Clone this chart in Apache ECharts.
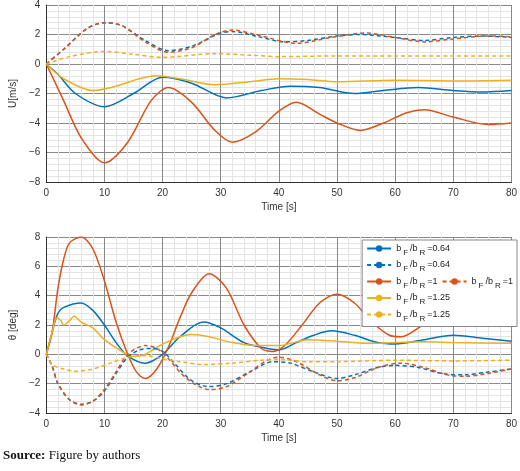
<!DOCTYPE html>
<html><head><meta charset="utf-8">
<script src="https://cdn.jsdelivr.net/npm/echarts@6/dist/echarts.min.js"></script>
<style>body{margin:0;background:#fff}#c{width:520px;height:471px}</style>
</head><body><div id="c"></div>
<script>
// U [m/s]
const uBlueSolid = [[0,0],[2,-0.7],[5,-2.0],[10,-2.9],[15,-2.0],[20,-0.9],[25,-1.3],[31,-2.3],[37,-1.8],[42,-1.5],[47,-1.6],[53,-2.0],[58,-1.8],[64,-1.6],[70,-1.8],[75,-1.9],[80,-1.8]];
const uRedSolid = [[0,0],[3,-2.5],[6,-5],[10,-6.7],[14,-5.3],[18,-2.5],[21,-1.6],[25,-2.6],[29,-4.5],[32,-5.3],[36,-4.6],[40,-3.2],[43,-2.6],[47,-3.4],[50,-4.0],[54,-4.5],[58,-4.0],[62,-3.3],[65,-3.1],[70,-3.6],[76,-4.1],[80,-4.0]];
const uYellowSolid = [[0,0],[3,-1.0],[8,-1.8],[12,-1.5],[16,-1.0],[19,-0.8],[23,-1.0],[29,-1.4],[35,-1.2],[40,-1.0],[45,-1.05],[50,-1.2],[60,-1.1],[70,-1.15],[80,-1.1]];
const uBlueDash = [[0,0],[3,1.0],[7,2.4],[10,2.8],[13,2.6],[17,1.6],[21,0.9],[25,1.2],[30,2.1],[32,2.2],[36,1.9],[41,1.5],[45,1.6],[50,1.9],[54,2.0],[60,1.8],[65,1.6],[70,1.8],[75,1.9],[80,1.8]];
const uRedDash = [[0,0],[3,1.0],[7,2.4],[10,2.8],[13,2.6],[17,1.5],[21,0.8],[25,1.1],[29,2.0],[32,2.3],[36,2.0],[43,1.4],[49,1.8],[55,2.1],[60,1.8],[65,1.5],[70,1.7],[76,1.9],[80,1.85]];
const uYellowDash = [[0,0],[4,0.5],[10,0.85],[15,0.65],[20,0.45],[29,0.7],[35,0.6],[40,0.5],[50,0.55],[60,0.55],[70,0.55],[80,0.55]];
// theta [deg]
const tRedSolid = [[0,0],[1,1.5],[2,4.5],[3,6.5],[4,7.6],[6,8.0],[8,7.2],[10,5],[12,2.2],[14,0],[15.5,-1.2],[17,-1.65],[19,-1.0],[21,0.5],[23,2.5],[25,4.2],[28,5.5],[31,4.5],[34,2.0],[37,0.4],[39,0.2],[41,0.6],[44,2.0],[47,3.5],[50,4.1],[53,3.5],[56,2.2],[59,1.3],[61,1.2],[64,1.8],[68,2.9],[72,3.3],[76,2.9],[80,2.1]];
const tBlueSolid = [[0,0],[1,1.5],[2,2.8],[3,3.2],[6,3.5],[8,3.0],[10,2.0],[12,0.8],[14,-0.1],[17,-0.6],[20,0],[23,1.2],[27,2.2],[30,1.8],[34,0.8],[38,0.4],[40,0.3],[43,0.8],[46,1.3],[49,1.6],[53,1.3],[57,0.8],[60,0.7],[65,1.0],[70,1.3],[75,1.1],[80,0.9]];
const tYellowSolid = [[0,0],[1,1.5],[1.8,2.5],[2.5,2.3],[3,2.0],[4,2.3],[4.8,2.6],[6,2.2],[8,1.8],[10,1.0],[13,0.2],[15,-0.15],[17,0],[20,0.7],[23,1.2],[25,1.35],[28,1.2],[32,0.8],[36,0.6],[40,0.6],[45,1.0],[50,0.9],[55,0.75],[60,0.8],[65,0.85],[70,0.8],[80,0.75]];
const tBlueDash = [[0,0],[1,-0.8],[2,-2.0],[4,-3.1],[6,-3.4],[8,-3.2],[10,-2.5],[12,-1.3],[14,-0.2],[16,0.3],[18,0.4],[20,0.2],[22,-0.6],[25,-1.8],[28,-2.2],[31,-2.0],[35,-1.2],[39,-0.5],[42,-0.6],[46,-1.2],[50,-1.65],[53,-1.4],[57,-0.9],[60,-0.75],[64,-0.9],[68,-1.3],[72,-1.4],[76,-1.2],[80,-1.0]];
const tRedDash = [[0,0],[1,-0.8],[2,-2.0],[4,-3.1],[6,-3.45],[8,-3.2],[10,-2.4],[12,-1.2],[14,0],[17,0.6],[19,0.4],[21,-0.3],[24,-1.6],[28,-2.4],[31,-2.2],[35,-1.2],[38,-0.4],[40,-0.2],[43,-0.5],[47,-1.4],[50,-1.8],[53,-1.6],[57,-0.9],[61,-0.6],[65,-0.9],[69,-1.4],[72,-1.5],[76,-1.3],[80,-1.0]];
const tYellowDash = [[0,0],[1,-0.7],[3,-1.0],[5,-1.15],[8,-1.0],[11,-0.6],[14,-0.2],[17,-0.1],[20,-0.3],[23,-0.5],[27,-0.7],[32,-0.6],[37,-0.4],[40,-0.35],[45,-0.5],[50,-0.5],[60,-0.4],[70,-0.45],[80,-0.4]];
const ratios = ['0.64','1','1.25'];

const C = ['#0072BD','#D95319','#EDB120'];
const font = 'Arial, Liberation Sans, sans-serif';
function xAx(i){return {type:'value',gridIndex:i,min:0,max:80,interval:10,name:'Time [s]',nameLocation:'middle',nameGap:20,
  nameTextStyle:{color:'#333',fontSize:10,fontFamily:font},
  axisLine:{onZero:false,lineStyle:{color:'#333'}},axisTick:{show:false},axisLabel:{color:'#333',fontSize:10,fontFamily:font,margin:6},
  splitLine:{lineStyle:{color:'#888',width:1}},minorTick:{show:false,splitNumber:5},minorSplitLine:{show:true,lineStyle:{color:'#e4e4e4'}}};}
function yAx(i,min,max,name){return {type:'value',gridIndex:i,min:min,max:max,interval:2,name:name,nameLocation:'middle',nameGap:20,
  nameTextStyle:{color:'#333',fontSize:10,fontFamily:font},
  axisLine:{show:true,lineStyle:{color:'#333'}},axisTick:{show:false},axisLabel:{color:'#333',fontSize:10,fontFamily:font,margin:6,formatter:v=>String(v).replace('-','\u2212')},
  splitLine:{lineStyle:{color:'#888'}},minorTick:{show:false,splitNumber:5},minorSplitLine:{show:true,lineStyle:{color:'#e4e4e4'}}};}
function s(name,data,ci,dash,g){return {name:name,type:'line',xAxisIndex:g,yAxisIndex:g,data:data,smooth:0.3,symbol:'none',showSymbol:false,
  lineStyle:{color:C[ci],width:1.5,type:dash?[4,3]:'solid'},itemStyle:{color:C[ci]}};}
const series = [
  s('s0',uBlueSolid,0,false,0),s('s1',uRedSolid,1,false,0),s('s2',uYellowSolid,2,false,0),
  s('d0',uBlueDash,0,true,0),s('d1',uRedDash,1,true,0),s('d2',uYellowDash,2,true,0),
  s('s0',tBlueSolid,0,false,1),s('s1',tRedSolid,1,false,1),s('s2',tYellowSolid,2,false,1),
  s('d0',tBlueDash,0,true,1),s('d1',tRedDash,1,true,1),s('d2',tYellowDash,2,true,1)];
const chart = echarts.init(document.getElementById('c'));
chart.setOption({
  animation:false,
  grid:[{left:32,right:3,top:5,height:177},{left:32,right:3,top:237,height:176}],
  xAxis:[xAx(0),xAx(1)], yAxis:[yAx(0,-8,4,'U[m/s]'),yAx(1,-4,8,'\u03b8 [deg]')],
  legend:{data:['s0','d0','s1','d1','s2','d2'],right:3,top:240,width:158,itemWidth:24,itemHeight:8,itemGap:4,padding:[4,4,4,4],
    backgroundColor:'#fff',borderColor:'#888',borderWidth:1,
    formatter:n=>'b{s|F}/b{s|R}=' + ratios[+n[1]],
    textStyle:{fontSize:9,color:'#222',fontFamily:font,rich:{s:{fontSize:8,padding:[8,2,0,2]}}}},
  series:series,
  graphic:[{type:'text',left:3,top:449,style:{rich:{b:{fontWeight:'bold',fontFamily:'Liberation Serif, serif',fontSize:13,fill:'#111'},n:{fontFamily:'Liberation Serif, serif',fontSize:13,fill:'#111'}},text:'{b|Source:} {n|Figure by authors}'}}]
});
</script></body></html>
